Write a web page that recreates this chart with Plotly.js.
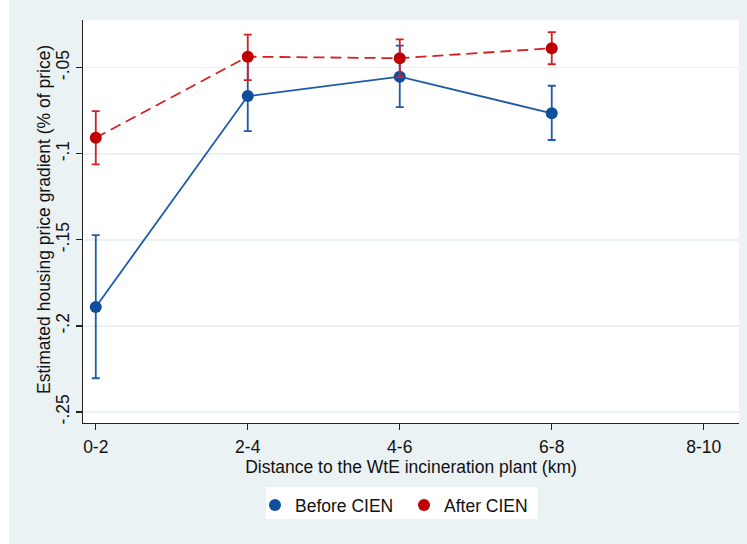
<!DOCTYPE html>
<html>
<head>
<meta charset="utf-8">
<script src="https://cdn.plot.ly/plotly-3.0.1.min.js"></script>
<style>html,body{margin:0;padding:0;background:#fff}#chart{width:747px;height:544px}</style>
</head>
<body>
<div id="chart"></div>
<script>
// Data
const categories = ['0-2', '2-4', '4-6', '6-8', '8-10'];
const dataCats = ['0-2', '2-4', '4-6', '6-8'];

const beforeEst = [-0.189, -0.0665, -0.0552, -0.0765];
const beforeHi  = [-0.1473, -0.0461, -0.0372, -0.0605];
const beforeLo  = [-0.2304, -0.0868, -0.0729, -0.0920];

const afterEst = [-0.0907, -0.0436, -0.0445, -0.0387];
const afterHi  = [-0.0752, -0.0308, -0.0335, -0.0294];
const afterLo  = [-0.1062, -0.0572, -0.0555, -0.0480];

const yTickVals = [-0.25, -0.2, -0.15, -0.1, -0.05];
const yTickText = ['-.25', '-.2', '-.15', '-.1', '-.05'];

const xTitle = 'Distance to the WtE incineration plant (km)';
const yTitle = 'Estimated housing price gradient (% of price)';

const BLUE_LINE = '#1f5aa6', BLUE_MK = '#0d4f9c';
const RED_LINE = '#d42020', RED_MK = '#c00000';
const FONT = 'Liberation Sans, Arial, sans-serif';
const FS = 17.5;

// plot area in pixels: left 83, top 20, width 656, height 403
const PW = 656, PH = 403;
const px = v => (v - 83) / PW;
const py = v => (423 - v) / PH;

function plus(hi, est) { return hi.map((v, i) => v - est[i]); }
function minus(lo, est) { return est.map((v, i) => v - lo[i]); }

const traces = [
  { x: dataCats, y: beforeEst, type: 'scatter', mode: 'lines', showlegend: false,
    line: { color: BLUE_LINE, width: 1.8 }, hoverinfo: 'skip' },
  { x: dataCats, y: beforeEst, type: 'scatter', mode: 'markers', name: 'Before CIEN',
    marker: { color: BLUE_MK, size: 12 },
    error_y: { type: 'data', symmetric: false, array: plus(beforeHi, beforeEst),
      arrayminus: minus(beforeLo, beforeEst), color: BLUE_LINE, thickness: 1.8, width: 4 } },
  { x: dataCats, y: afterEst, type: 'scatter', mode: 'lines', showlegend: false,
    line: { color: RED_LINE, width: 1.8, dash: '11px,6px' }, hoverinfo: 'skip' },
  { x: dataCats, y: afterEst, type: 'scatter', mode: 'markers', name: 'After CIEN',
    marker: { color: RED_MK, size: 12 },
    error_y: { type: 'data', symmetric: false, array: plus(afterHi, afterEst),
      arrayminus: minus(afterLo, afterEst), color: RED_LINE, thickness: 1.8, width: 4 } }
];

const layout = {
  width: 747, height: 544,
  margin: { l: 83, r: 8, t: 20, b: 121, pad: 0 },
  paper_bgcolor: '#eaf2f3',
  plot_bgcolor: '#ffffff',
  font: { family: FONT, size: FS, color: '#111' },
  showlegend: true,
  legend: {
    orientation: 'h', x: px(255), xanchor: 'left', y: -0.159, yanchor: 'top',
    bgcolor: 'rgba(0,0,0,0)', borderwidth: 0, font: { family: FONT, size: FS, color: '#111' },
    entrywidth: 104, itemwidth: 30
  },
  xaxis: {
    type: 'category', categoryorder: 'array', categoryarray: categories,
    range: [-0.084, 4.232],
    showline: true, linecolor: '#222', linewidth: 1.2, mirror: false,
    ticks: 'outside', ticklen: 6, tickcolor: '#222', tickwidth: 1.2,
    ticklabelstandoff: 2,
    showgrid: false, zeroline: false,
    tickfont: { family: FONT, size: FS, color: '#111' },
    title: { text: xTitle, standoff: 0,
      font: { family: FONT, size: FS, color: '#111' } }
  },
  yaxis: {
    range: [-0.2564, -0.0223],
    tickvals: yTickVals, ticktext: yTickText, tickangle: -90,
    showline: true, linecolor: '#222', linewidth: 1.2,
    ticks: 'outside', ticklen: 6, tickcolor: '#222', tickwidth: 1.2,
    showgrid: true, gridcolor: '#eaf2f3', gridwidth: 1.5, zeroline: false,
    tickfont: { family: FONT, size: FS, color: '#111' }
  },
  annotations: [
    { text: yTitle, xref: 'paper', yref: 'paper', x: px(44), y: py(220),
      xanchor: 'center', yanchor: 'middle', textangle: -90, showarrow: false,
      font: { family: FONT, size: FS, color: '#111' } }
  ],
  shapes: [
    { type: 'rect', xref: 'paper', yref: 'paper',
      x0: px(0), x1: px(9), y0: py(544), y1: py(0),
      fillcolor: '#ffffff', line: { width: 0 }, layer: 'below' },
    { type: 'rect', xref: 'paper', yref: 'paper',
      x0: px(266), x1: px(538), y0: py(519), y1: py(487),
      fillcolor: '#ffffff', line: { width: 0 }, layer: 'below' }
  ]
};

Plotly.newPlot('chart', traces, layout, { displayModeBar: false, staticPlot: true });
</script>
</body>
</html>
